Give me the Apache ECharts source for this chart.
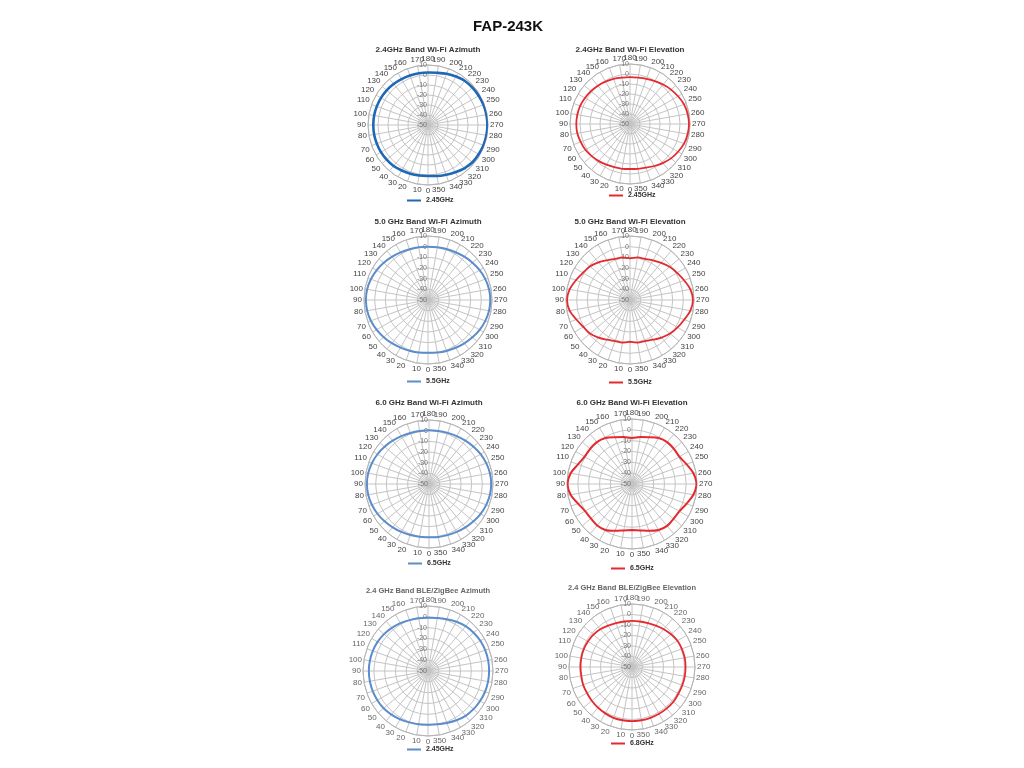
<!DOCTYPE html>
<html>
<head>
<meta charset="utf-8">
<script src="https://cdn.jsdelivr.net/npm/echarts@6/dist/echarts.min.js"></script>
<style>
  html, body { margin: 0; background: #fff; }
  #chart { width: 1024px; height: 768px; }
</style>
</head>
<body>
<div id="chart"></div>
<script>
// angles in degrees, 0 at the bottom, going clockwise
const angles = [0, 10, 20, 30, 40, 50, 60, 70, 80, 90, 100, 110, 120, 130, 140, 150, 160, 170,
  180, 190, 200, 210, 220, 230, 240, 250, 260, 270, 280, 290, 300, 310, 320, 330, 340, 350];

// gain values (dB), one per angle
const wifi24Azimuth = [1, 1.2, 1.8, 2.5, 3.5, 4, 4.3, 4.5, 4.7, 4.7, 4.7, 4.5, 4.3, 4, 3.5, 3, 2.7, 2.5,
  2.5, 3, 4.5, 6, 7.5, 8, 8.5, 9, 9.3, 9.4, 9.3, 9, 8.5, 8, 6.5, 4.5, 3, 1.8];
const wifi24Elevation = [-5, -4.5, -4, -3, -1.5, 0, 1.5, 2.5, 3.5, 3.7, 3.5, 3, 2, 1, 0, -1, -2, -3,
  -3.2, -3, -2, -0.5, 1.5, 3.5, 5.5, 7.5, 8.5, 9, 8.5, 7.5, 5.5, 3.5, 1, -1.5, -3.5, -4.5];
const wifi50Azimuth = [-0.5, 0, 0.6, 1.5, 2.8, 4.2, 5.7, 7, 7.9, 8.2, 7.9, 7, 5.7, 4.2, 2.8, 1.5, 0.6, 0.2,
  0, 0.2, 0.8, 1.7, 3, 4.4, 5.9, 7.2, 8.1, 8.4, 8.1, 7.2, 5.9, 4.4, 3, 1.7, 0.8, 0];
const wifi50Elevation = [-11, -9.5, -9, -7, -4, -1, 0.5, 3.5, 7.5, 9, 7.5, 4, 1, -1, -4, -7, -9, -9.5,
  -11, -9.5, -9, -7, -4.5, -1.5, 1, 4, 7.5, 9, 7.5, 4, 1.5, -1, -4, -7, -9, -9.5];
const wifi60Azimuth = [0, 0.3, 0.9, 1.8, 3, 4.4, 5.8, 7, 7.9, 8.2, 7.9, 7, 5.8, 4.4, 3, 1.8, 0.9, 0.4,
  0.3, 0.5, 1, 1.9, 3.1, 4.5, 5.9, 7.1, 8, 8.3, 8, 7.1, 5.9, 4.5, 3.1, 1.9, 1, 0.4];
const wifi60Elevation = [-7.5, -6.5, -4, -1, 0, -0.5, 0, 3, 7.5, 9.5, 7.5, 3, 0.5, 0.5, 0.5, -1, -4, -6,
  -7.5, -6, -4, -1, 0.5, 0.5, 0.5, 3.5, 7.5, 9.5, 7.5, 3.5, 0.5, 0, 0.5, -1, -4, -6.5];
const bleAzimuth = [-0.5, 0, 0.5, 1.5, 2.5, 3.5, 4, 4.3, 4.5, 4.6, 4.5, 4.2, 3.8, 3, 2, 1, 0, -0.5,
  -0.8, -0.3, 0.8, 2.5, 4, 5, 5.8, 6.2, 6.4, 6.4, 6.3, 6, 5.5, 4.8, 4, 2.5, 1, 0];
const bleElevation = [1.5, 1.5, 1.5, 1, 0.5, 0, -0.5, -0.5, -1, -1, -1, -1, -1.5, -2, -3, -4.5, -5.5, -6,
  -6, -6, -5.5, -4.5, -3, -1.5, 0, 0.5, 1, 1, 1, 1, 1, 1.5, 1.5, 1.5, 1.5, 1.5];

const mainTitle = 'FAP-243K';
const chartTitles = [
  '2.4GHz Band Wi-Fi Azimuth', '2.4GHz Band Wi-Fi Elevation',
  '5.0 GHz Band Wi-Fi Azimuth', '5.0 GHz Band Wi-Fi Elevation',
  '6.0 GHz Band Wi-Fi Azimuth', '6.0 GHz Band Wi-Fi Elevation',
  '2.4 GHz Band BLE/ZigBee Azimuth', '2.4 GHz Band BLE/ZigBee Elevation'
];
const seriesNames = ['2.45GHz', '2.45GHz', '5.5GHz', '5.5GHz', '6.5GHz', '6.5GHz', '2.45GHz', '6.8GHz'];
const seriesValues = [wifi24Azimuth, wifi24Elevation, wifi50Azimuth, wifi50Elevation,
  wifi60Azimuth, wifi60Elevation, bleAzimuth, bleElevation];
const gainTicks = [-50, -40, -30, -20, -10, 0, 10];

// layout of each small chart: centre, radius, title y, legend y (text centres)
const layout = [
  { cx: 428, cy: 125, r: 60, ty: 49, ly: 199 },
  { cx: 630, cy: 124, r: 60, ty: 49, ly: 194 },
  { cx: 428, cy: 300, r: 64, ty: 221, ly: 380 },
  { cx: 630, cy: 300, r: 64, ty: 221, ly: 381 },
  { cx: 429, cy: 484, r: 64, ty: 402, ly: 562 },
  { cx: 632, cy: 484, r: 65, ty: 402, ly: 567 },
  { cx: 428, cy: 671, r: 65, ty: 590, ly: 748 },
  { cx: 632, cy: 667, r: 63, ty: 587, ly: 742 }
];
const lineColors = ['#1f68b5', '#e52a2f', '#5b8ccb', '#e52a2f', '#5b8ccb', '#e52a2f', '#5b8ccb', '#e52a2f'];
const lineWidths = [2.6, 1.8, 2, 1.8, 2, 2, 2, 1.8];

const font = '"Liberation Sans", Arial, sans-serif';
const gridColor = '#c4c4c4';

// angle axis runs 180..540 so that 180 sits on top and labels wrap back to 0..350
function toAxisAngle(a) {
  return a < 180 ? a + 360 : a;
}

const titles = [{
  text: mainTitle,
  left: 508,
  top: 19,
  padding: 0,
  textAlign: 'center',
  textStyle: { fontFamily: font, fontSize: 15, fontWeight: 'bold', color: '#111' }
}];
const polar = [];
const angleAxis = [];
const radiusAxis = [];
const legends = [];
const series = [];

layout.forEach((l, i) => {
  const lastRow = i >= 6;
  titles.push({
    text: chartTitles[i],
    left: l.cx,
    top: l.ty - 3,
    padding: 0,
    textAlign: 'center',
    textStyle: {
      fontFamily: font, fontSize: lastRow ? 7.5 : 8, fontWeight: 'bold',
      color: lastRow ? '#666' : '#333'
    }
  });
  polar.push({ center: [l.cx, l.cy], radius: l.r });
  angleAxis.push({
    polarIndex: i,
    type: 'value',
    min: 180,
    max: 540,
    interval: 10,
    startAngle: 90,
    clockwise: true,
    axisLine: { show: true, lineStyle: { color: '#b4b4b4', width: 1 } },
    axisTick: { show: false },
    axisLabel: {
      fontFamily: font, fontSize: 8, color: lastRow ? '#666' : '#444', margin: 2,
      formatter: v => (v === 540 ? '' : String(v % 360))
    },
    splitLine: { show: true, lineStyle: { color: gridColor, width: 1 } }
  });
  radiusAxis.push({
    polarIndex: i,
    type: 'value',
    min: gainTicks[0],
    max: gainTicks[gainTicks.length - 1],
    interval: 10,
    axisLine: { show: false },
    axisTick: { show: false },
    axisLabel: { fontFamily: font, fontSize: 7, color: '#777', margin: 1 },
    splitLine: { show: true, lineStyle: { color: gridColor, width: 1 } }
  });
  legends.push({
    left: l.cx - 21,
    top: l.ly - 2,
    padding: 0,
    icon: 'rect',
    itemWidth: 14,
    itemHeight: 2,
    itemGap: 4,
    selectedMode: false,
    textStyle: { fontFamily: font, fontSize: 7, fontWeight: 'bold', color: '#333' },
    data: [{
      name: seriesNames[i],
      itemStyle: { color: lineColors[i] }
    }]
  });
  const vals = seriesValues[i];
  const pts = angles.map((a, k) => [vals[k], toAxisAngle(a)]);
  pts.push(pts[0]);
  series.push({
    name: seriesNames[i],
    type: 'line',
    coordinateSystem: 'polar',
    polarIndex: i,
    symbol: 'none',
    smooth: 0.3,
    silent: true,
    animation: false,
    lineStyle: { color: lineColors[i], width: lineWidths[i] },
    itemStyle: { color: lineColors[i] },
    data: pts
  });
});

const chart = echarts.init(document.getElementById('chart'));
chart.setOption({
  backgroundColor: '#fff',
  animation: false,
  title: titles,
  polar,
  angleAxis,
  radiusAxis,
  legend: legends,
  series
});
</script>
</body>
</html>
